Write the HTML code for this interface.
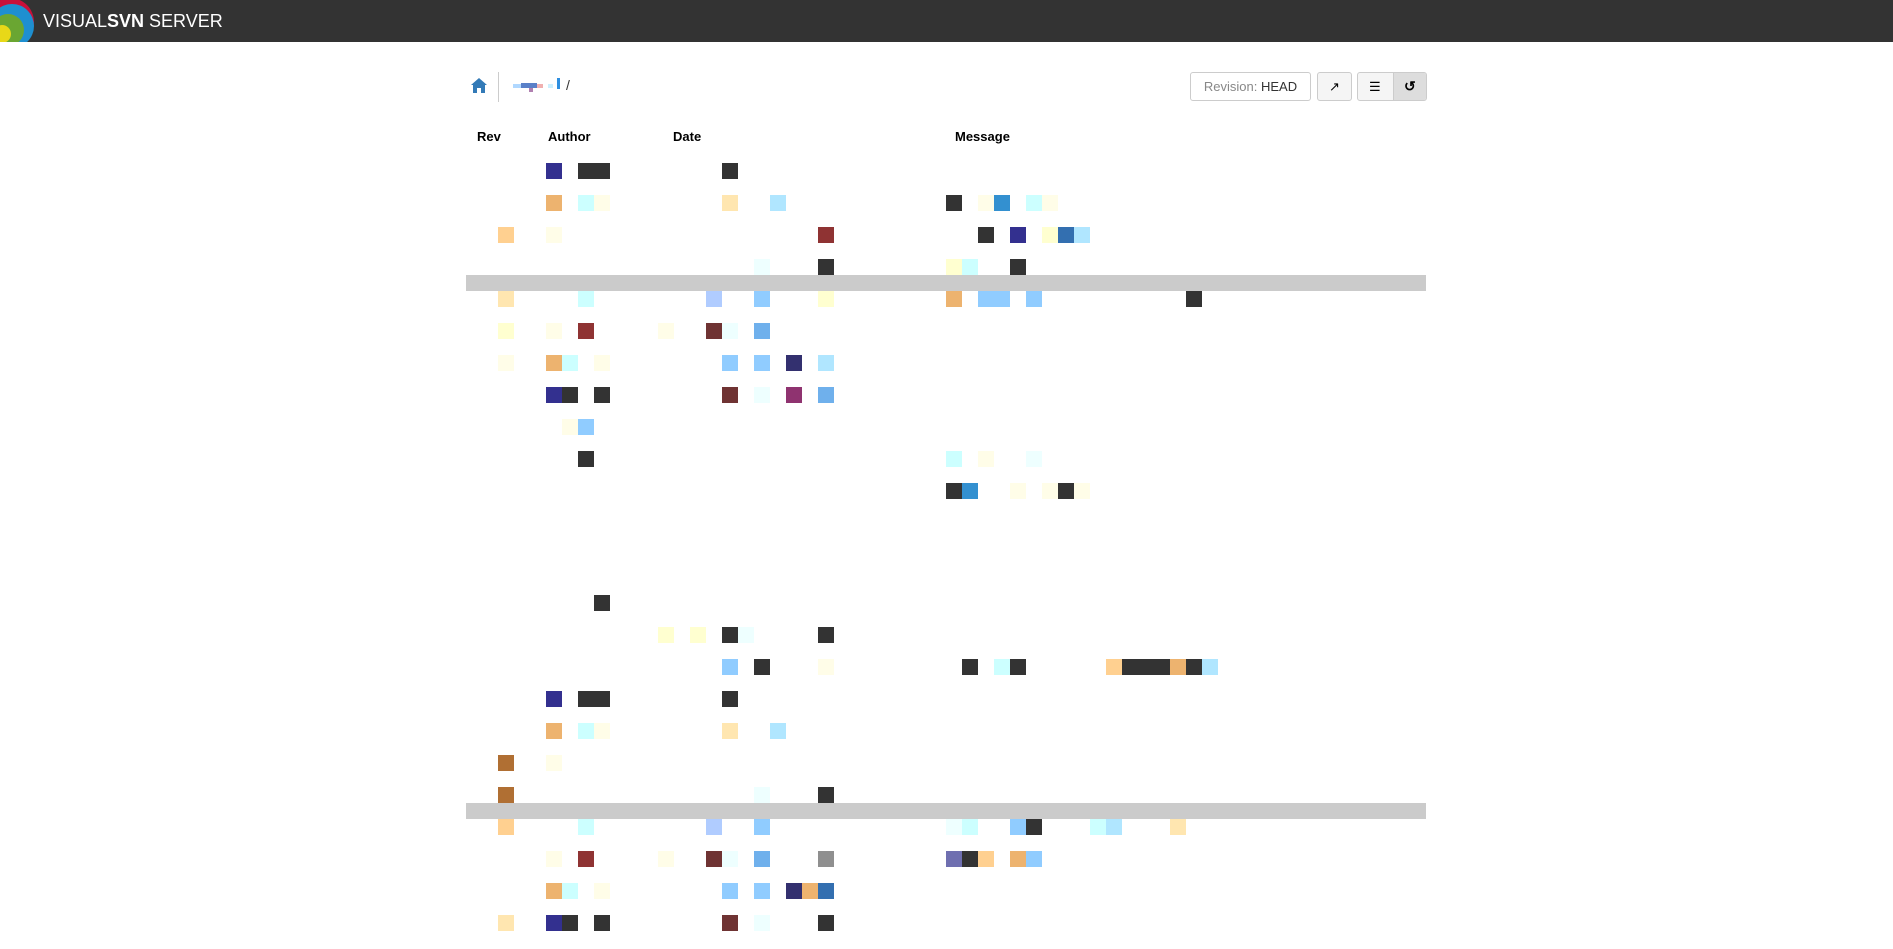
<!DOCTYPE html>
<html><head><meta charset="utf-8"><style>
body{margin:0;width:1893px;height:949px;background:#fff;position:relative;overflow:hidden;font-family:"Liberation Sans",Arial,sans-serif}
.c{position:absolute;width:16px;height:16px}
.h{position:absolute;top:129px;font-weight:bold;font-size:13px;color:#000}
.d{background:#333}.n{background:#33308f}.o{background:#edb36f}.lc{background:#ccffff}.ly{background:#fffde8}
.pe{background:#ffe6b0}.sb{background:#b0e6ff}.bl{background:#3390d0}.or{background:#ffd090}.rd{background:#8f3333}
.yy{background:#ffffd0}.st{background:#336fb0}.ec{background:#eeffff}.pb{background:#b0ccff}.lb{background:#90ccff}
.br{background:#6f3333}.mb{background:#6fb0ec}.dn{background:#33306f}.pu{background:#8f3370}.bw{background:#b06f33}
.gr{background:#8f8f8f}.lv{background:#6f6fb0}
.bar{position:absolute;left:466px;width:960px;height:16px;background:#cbcbcb}
</style></head><body>
<div style="position:absolute;left:0;top:0;width:1893px;height:42px;background:#333"></div>
<svg style="position:absolute;left:0;top:0" width="36" height="42"><circle cx="10" cy="22" r="24" fill="#c8103a"/><circle cx="12" cy="26" r="22" fill="#1e8fd0"/><circle cx="8" cy="30" r="16" fill="#6aa632"/><circle cx="2" cy="34" r="9" fill="#e8d818"/></svg>
<div style="position:absolute;left:43px;top:11px;color:#fff;font-size:18px;letter-spacing:0px">VISUAL<b>SVN</b> SERVER</div>
<svg style="position:absolute;left:471px;top:78px" width="16" height="15"><path d="M8 0L0 7h2v8h4v-5h4v5h4V7h2z" fill="#337ab7"/></svg>
<div style="position:absolute;left:498px;top:72px;width:1px;height:30px;background:#ccc"></div>
<div style="position:absolute;left:513px;top:84px;width:8px;height:4px;background:#b0d8ff"></div>
<div style="position:absolute;left:521px;top:83px;width:16px;height:5px;background:#5a80c8"></div>
<div style="position:absolute;left:529px;top:88px;width:4px;height:4px;background:#b080b0"></div>
<div style="position:absolute;left:537px;top:84px;width:6px;height:4px;background:#f0b0b0"></div>
<div style="position:absolute;left:548px;top:84px;width:5px;height:4px;background:#ccf0ff"></div>
<div style="position:absolute;left:557px;top:78px;width:3px;height:11px;background:#2f8fe0"></div>
<div style="position:absolute;left:566px;top:77px;font-size:14px;color:#333">/</div>
<div style="position:absolute;left:1190px;top:72px;width:121px;height:29px;border:1px solid #ccc;border-radius:3px;box-sizing:border-box;font-size:13px;color:#888;line-height:27px;text-align:center">Revision: <span style="color:#333">HEAD</span></div>
<div style="position:absolute;left:1317px;top:72px;width:35px;height:29px;border:1px solid #ccc;border-radius:3px;box-sizing:border-box;background:#f5f5f5;text-align:center;line-height:27px;font-size:13px">&#x2197;</div>
<div style="position:absolute;left:1357px;top:72px;width:70px;height:29px;border:1px solid #ccc;border-radius:3px;box-sizing:border-box;background:#f5f5f5;overflow:hidden"><div style="position:absolute;left:35px;top:0;width:35px;height:29px;background:#ddd;border-left:1px solid #ccc"></div><div style="position:absolute;left:11px;top:6px;font-size:13px">&#9776;</div><div style="position:absolute;left:46px;top:5px;font-size:14px;font-weight:bold">&#x21BA;</div></div>
<div class="h" style="left:477px">Rev</div><div class="h" style="left:548px">Author</div><div class="h" style="left:673px">Date</div><div class="h" style="left:955px">Message</div>
<div class="bar" style="top:275px"></div><div class="bar" style="top:803px"></div>
<!-- r0 163 -->
<div class="c n" style="left:546px;top:163px"></div><div class="c d" style="left:578px;top:163px;width:32px"></div><div class="c d" style="left:722px;top:163px"></div>
<!-- r1 195 -->
<div class="c o" style="left:546px;top:195px"></div><div class="c lc" style="left:578px;top:195px"></div><div class="c ly" style="left:594px;top:195px"></div><div class="c pe" style="left:722px;top:195px"></div><div class="c sb" style="left:770px;top:195px"></div><div class="c d" style="left:946px;top:195px"></div><div class="c ly" style="left:978px;top:195px"></div><div class="c bl" style="left:994px;top:195px"></div><div class="c lc" style="left:1026px;top:195px"></div><div class="c ly" style="left:1042px;top:195px"></div>
<!-- r2 227 -->
<div class="c or" style="left:498px;top:227px"></div><div class="c ly" style="left:546px;top:227px"></div><div class="c rd" style="left:818px;top:227px"></div><div class="c d" style="left:978px;top:227px"></div><div class="c n" style="left:1010px;top:227px"></div><div class="c yy" style="left:1042px;top:227px"></div><div class="c st" style="left:1058px;top:227px"></div><div class="c sb" style="left:1074px;top:227px"></div>
<!-- r3 259 -->
<div class="c ec" style="left:754px;top:259px"></div><div class="c d" style="left:818px;top:259px"></div><div class="c yy" style="left:946px;top:259px"></div><div class="c lc" style="left:962px;top:259px"></div><div class="c d" style="left:1010px;top:259px"></div>
<!-- r4 291 -->
<div class="c pe" style="left:498px;top:291px"></div><div class="c lc" style="left:578px;top:291px"></div><div class="c pb" style="left:706px;top:291px"></div><div class="c lb" style="left:754px;top:291px"></div><div class="c yy" style="left:818px;top:291px"></div><div class="c o" style="left:946px;top:291px"></div><div class="c lb" style="left:978px;top:291px;width:32px"></div><div class="c lb" style="left:1026px;top:291px"></div><div class="c d" style="left:1186px;top:291px"></div>
<!-- r5 323 -->
<div class="c yy" style="left:498px;top:323px"></div><div class="c ly" style="left:546px;top:323px"></div><div class="c rd" style="left:578px;top:323px"></div><div class="c ly" style="left:658px;top:323px"></div><div class="c br" style="left:706px;top:323px"></div><div class="c ec" style="left:722px;top:323px"></div><div class="c mb" style="left:754px;top:323px"></div>
<!-- r6 355 -->
<div class="c ly" style="left:498px;top:355px"></div><div class="c o" style="left:546px;top:355px"></div><div class="c lc" style="left:562px;top:355px"></div><div class="c ly" style="left:594px;top:355px"></div><div class="c lb" style="left:722px;top:355px"></div><div class="c lb" style="left:754px;top:355px"></div><div class="c dn" style="left:786px;top:355px"></div><div class="c sb" style="left:818px;top:355px"></div>
<!-- r7 387 -->
<div class="c n" style="left:546px;top:387px"></div><div class="c d" style="left:562px;top:387px"></div><div class="c d" style="left:594px;top:387px"></div><div class="c br" style="left:722px;top:387px"></div><div class="c ec" style="left:754px;top:387px"></div><div class="c pu" style="left:786px;top:387px"></div><div class="c mb" style="left:818px;top:387px"></div>
<!-- r8 419 -->
<div class="c ly" style="left:562px;top:419px"></div><div class="c lb" style="left:578px;top:419px"></div>
<!-- r9 451 -->
<div class="c d" style="left:578px;top:451px"></div><div class="c lc" style="left:946px;top:451px"></div><div class="c ly" style="left:978px;top:451px"></div><div class="c ec" style="left:1026px;top:451px"></div>
<!-- r10 483 -->
<div class="c d" style="left:946px;top:483px"></div><div class="c bl" style="left:962px;top:483px"></div><div class="c ly" style="left:1010px;top:483px"></div><div class="c ly" style="left:1042px;top:483px"></div><div class="c d" style="left:1058px;top:483px"></div><div class="c ly" style="left:1074px;top:483px"></div>
<!-- L0 595 -->
<div class="c d" style="left:594px;top:595px"></div>
<!-- L1 627 -->
<div class="c yy" style="left:658px;top:627px"></div><div class="c yy" style="left:690px;top:627px"></div><div class="c d" style="left:722px;top:627px"></div><div class="c ec" style="left:738px;top:627px"></div><div class="c d" style="left:818px;top:627px"></div>
<!-- L2 659 -->
<div class="c lb" style="left:722px;top:659px"></div><div class="c d" style="left:754px;top:659px"></div><div class="c ly" style="left:818px;top:659px"></div><div class="c d" style="left:962px;top:659px"></div><div class="c lc" style="left:994px;top:659px"></div><div class="c d" style="left:1010px;top:659px"></div><div class="c or" style="left:1106px;top:659px"></div><div class="c d" style="left:1122px;top:659px;width:48px"></div><div class="c o" style="left:1170px;top:659px"></div><div class="c d" style="left:1186px;top:659px"></div><div class="c sb" style="left:1202px;top:659px"></div>
<!-- L3 691 -->
<div class="c n" style="left:546px;top:691px"></div><div class="c d" style="left:578px;top:691px;width:32px"></div><div class="c d" style="left:722px;top:691px"></div>
<!-- L4 723 -->
<div class="c o" style="left:546px;top:723px"></div><div class="c lc" style="left:578px;top:723px"></div><div class="c ly" style="left:594px;top:723px"></div><div class="c pe" style="left:722px;top:723px"></div><div class="c sb" style="left:770px;top:723px"></div>
<!-- L5 755 -->
<div class="c bw" style="left:498px;top:755px"></div><div class="c ly" style="left:546px;top:755px"></div>
<!-- L6 787 -->
<div class="c bw" style="left:498px;top:787px"></div><div class="c ec" style="left:754px;top:787px"></div><div class="c d" style="left:818px;top:787px"></div>
<!-- L7 819 -->
<div class="c or" style="left:498px;top:819px"></div><div class="c lc" style="left:578px;top:819px"></div><div class="c pb" style="left:706px;top:819px"></div><div class="c lb" style="left:754px;top:819px"></div><div class="c ec" style="left:946px;top:819px"></div><div class="c lc" style="left:962px;top:819px"></div><div class="c lb" style="left:1010px;top:819px"></div><div class="c d" style="left:1026px;top:819px"></div><div class="c lc" style="left:1090px;top:819px"></div><div class="c sb" style="left:1106px;top:819px"></div><div class="c pe" style="left:1170px;top:819px"></div>
<!-- L8 851 -->
<div class="c ly" style="left:546px;top:851px"></div><div class="c rd" style="left:578px;top:851px"></div><div class="c ly" style="left:658px;top:851px"></div><div class="c br" style="left:706px;top:851px"></div><div class="c ec" style="left:722px;top:851px"></div><div class="c mb" style="left:754px;top:851px"></div><div class="c gr" style="left:818px;top:851px"></div><div class="c lv" style="left:946px;top:851px"></div><div class="c d" style="left:962px;top:851px"></div><div class="c or" style="left:978px;top:851px"></div><div class="c o" style="left:1010px;top:851px"></div><div class="c lb" style="left:1026px;top:851px"></div>
<!-- L9 883 -->
<div class="c o" style="left:546px;top:883px"></div><div class="c lc" style="left:562px;top:883px"></div><div class="c ly" style="left:594px;top:883px"></div><div class="c lb" style="left:722px;top:883px"></div><div class="c lb" style="left:754px;top:883px"></div><div class="c dn" style="left:786px;top:883px"></div><div class="c o" style="left:802px;top:883px"></div><div class="c st" style="left:818px;top:883px"></div>
<!-- L10 915 -->
<div class="c pe" style="left:498px;top:915px"></div><div class="c n" style="left:546px;top:915px"></div><div class="c d" style="left:562px;top:915px"></div><div class="c d" style="left:594px;top:915px"></div><div class="c br" style="left:722px;top:915px"></div><div class="c ec" style="left:754px;top:915px"></div><div class="c d" style="left:818px;top:915px"></div>
</body></html>
